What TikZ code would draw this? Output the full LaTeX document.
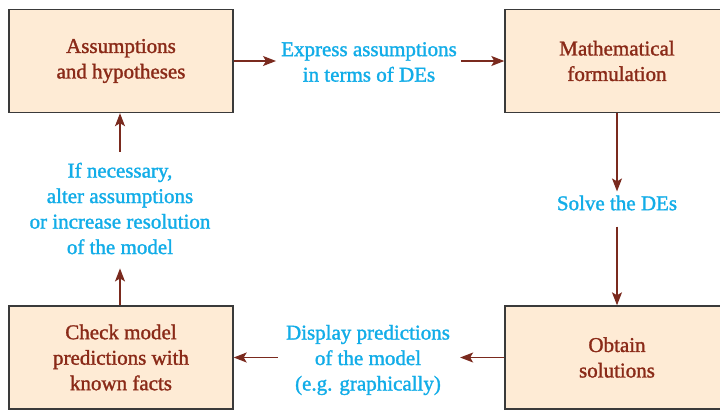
\documentclass[tikz,border=0pt]{standalone}
\usepackage{fontspec}
\setmainfont{Liberation Serif}
\newfontfamily\flowfont{Liberation Serif}[BoldFont={Liberation Serif}, BoldFeatures={FakeBold=1.4}]
\usetikzlibrary{arrows.meta}
\definecolor{boxfill}{HTML}{FEEBD5}
\definecolor{boxline}{HTML}{3A3A3A}
\definecolor{stepred}{HTML}{8A2A18}
\definecolor{notecyan}{HTML}{12ADE8}
\definecolor{arrowred}{HTML}{7A2A1E}
\begin{document}
\begin{tikzpicture}[x=1bp,y=-1bp,
  stagebox/.style={draw=boxline, line width=1.4bp, fill=boxfill,
    minimum width=224bp, minimum height=103bp, inner sep=0pt,
    align=center, text=stepred,
    font=\flowfont\bfseries\fontsize{21bp}{25.5bp}\selectfont},
  note/.style={inner sep=0pt, align=center, text=notecyan,
    font=\flowfont\bfseries\fontsize{21bp}{25.5bp}\selectfont},
  flow/.style={draw=arrowred, line width=1.2bp,
    -{Stealth[length=13bp, width=10bp, inset=3bp]}}]
  \useasboundingbox (0,0) rectangle (720,410);
  \fill[white] (0,0) rectangle (720,410);
  \begin{scope}
    \clip (0,0) rectangle (720,410);
    % the four stages of the modelling cycle
    \node[stagebox] (assume) at (121,61) {Assumptions\\and hypotheses};
    \node[stagebox] (formul) at (617,61) {Mathematical\\formulation};
    \node[stagebox] (check)  at (121,357.5) {Check model\\predictions with\\known facts};
    \node[stagebox] (obtain) at (617,357.5) {Obtain\\solutions};
  \end{scope}
  % actions written between the stages
  \node[note] (express) at (369,62) {Express assumptions\\in terms of DEs};
  \node[note] (solve)   at (617,203) {Solve the DEs};
  \node[note] (display) at (368,360) {Display predictions\\of the model\\(e.g. graphically)};
  \node[note] (alter)   at (120,208.5) {If necessary,\\alter assumptions\\or increase resolution\\of the model};
  % connectors
  \draw[flow] (assume.east) -- ([xshift=-5bp]express.west |- assume.east);
  \draw[flow] ([xshift=4bp]express.east |- formul.west) -- (formul.west);
  \draw[flow] (formul.south) -- ([yshift=4bp]solve.north);
  \draw[flow] ([yshift=-16bp]solve.south) -- (obtain.north);
  \draw[flow] (obtain.west) -- ([xshift=10bp]display.east |- obtain.west);
  \draw[flow] ([xshift=-8bp]display.west |- check.east) -- (check.east);
  \draw[flow] (check.north -| alter.south) -- ([yshift=-14bp]alter.south);
  \draw[flow] ([yshift=11bp]alter.north) -- (assume.south -| alter.north);
\end{tikzpicture}
\end{document}
